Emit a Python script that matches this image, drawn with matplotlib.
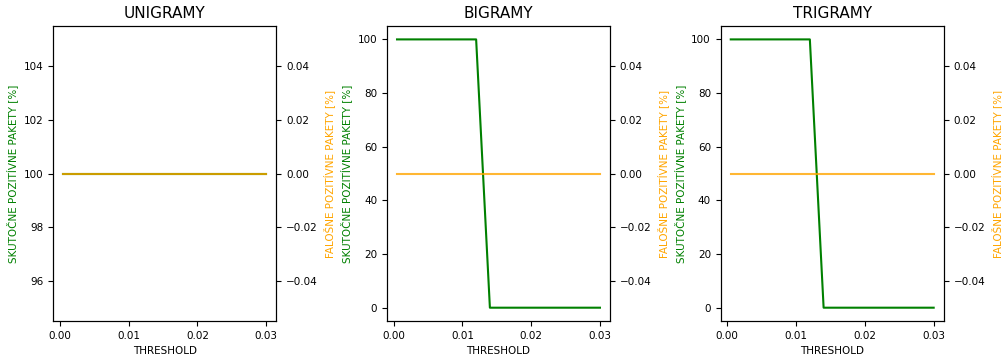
import numpy as np
import matplotlib.pyplot as plt
from matplotlib.ticker import MultipleLocator

# threshold values and detection results per n-gram model
thresholds = [0.0005, 0.002, 0.004, 0.006, 0.008, 0.010, 0.012, 0.014,
              0.016, 0.018, 0.020, 0.022, 0.024, 0.026, 0.028, 0.030]
titles = ["UNIGRAMY", "BIGRAMY", "TRIGRAMY"]

tp_uni = [100] * 16
tp_bi = [100, 100, 100, 100, 100, 100, 100, 0, 0, 0, 0, 0, 0, 0, 0, 0]
tp_tri = [100, 100, 100, 100, 100, 100, 100, 0, 0, 0, 0, 0, 0, 0, 0, 0]

fp_uni = [0] * 16
fp_bi = [0] * 16
fp_tri = [0] * 16

tp_all = [tp_uni, tp_bi, tp_tri]
fp_all = [fp_uni, fp_bi, fp_tri]

fig, axes = plt.subplots(1, 3, figsize=(10.03, 3.56), dpi=100)
fig.subplots_adjust(left=0.053, right=0.941, top=0.927, bottom=0.098, wspace=0.495)

for ax, title, tp, fp in zip(axes, titles, tp_all, fp_all):
    ax.plot(thresholds, tp, color="green")
    ax.set_xlabel("THRESHOLD", fontsize=7.5)
    ax.set_ylabel("SKUTOČNE POZITÍVNE PAKETY [%]", color="green", fontsize=7.5)
    ax.set_title(title, fontsize=11)
    ax.xaxis.set_major_locator(MultipleLocator(0.01))
    ax.tick_params(labelsize=7.5)

    ax2 = ax.twinx()
    ax2.plot(thresholds, fp, color="orange", alpha=0.8)
    ax2.set_ylabel("FALOŠNE POZITÍVNE PAKETY [%]", color="orange", fontsize=7.5)
    ax2.tick_params(labelsize=7.5)

plt.savefig("out.png")
